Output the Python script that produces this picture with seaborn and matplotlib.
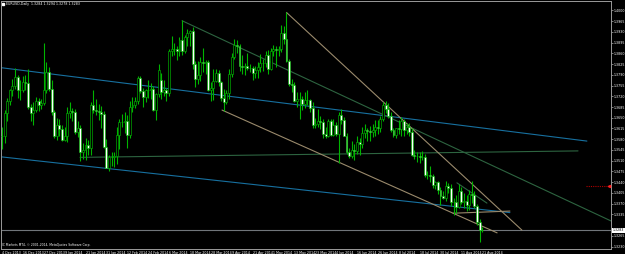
import numpy as np
import pandas as pd
import matplotlib
matplotlib.use("Agg")
import matplotlib.pyplot as plt
import seaborn as sns

# ---------------- data (EURUSD daily) ----------------
opens = [1.3590,1.3592,1.3664,1.3705,1.3740,1.3755,1.3783,1.3740,1.3741,1.3765,
1.3763,1.3685,1.3665,1.3675,1.3703,1.3693,1.3697,1.3740,1.3800,1.3743,
1.3670,1.3589,1.3627,1.3614,1.3576,1.3592,1.3666,1.3672,1.3670,1.3603,
1.3618,1.3540,1.3546,1.3560,1.3550,1.3690,1.3676,1.3673,1.3669,1.3661,
1.3555,1.3486,1.3521,1.3523,1.3526,1.3593,1.3636,1.3636,1.3640,1.3593,
1.3686,1.3693,1.3705,1.3781,1.3737,1.3717,1.3742,1.3740,1.3745,1.3676,
1.3727,1.3772,1.3735,1.3741,1.3730,1.3869,1.3875,1.3873,1.3868,1.3904,
1.3868,1.3914,1.3925,1.3932,1.3826,1.3776,1.3790,1.3833,1.3827,1.3832,
1.3740,1.3748,1.3771,1.3795,1.3767,1.3714,1.3702,1.3729,1.3792,1.3849,
1.3887,1.3885,1.3817,1.3814,1.3818,1.3812,1.3811,1.3795,1.3804,1.3815,
1.3827,1.3829,1.3856,1.3809,1.3869,1.3873,1.3871,1.3874,1.3927,1.3906,
1.3835,1.3759,1.3758,1.3703,1.3712,1.3710,1.3695,1.3709,1.3708,1.3683,
1.3628,1.3630,1.3638,1.3635,1.3596,1.3591,1.3639,1.3593,1.3628,1.3597,
1.3660,1.3642,1.3592,1.3540,1.3526,1.3545,1.3541,1.3571,1.3565,1.3600,
1.3610,1.3608,1.3604,1.3610,1.3620,1.3617,1.3646,1.3693,1.3678,1.3655,
1.3610,1.3594,1.3615,1.3612,1.3639,1.3610,1.3620,1.3604,1.3530,1.3525,
1.3525,1.3523,1.3521,1.3463,1.3464,1.3461,1.3430,1.3440,1.3414,1.3395,
1.3388,1.3428,1.3420,1.3375,1.3376,1.3360,1.3410,1.3377,1.3380,1.3366,
1.3402,1.3399,1.3363,1.3310,1.3284]
highs = [1.3620,1.3674,1.3714,1.3745,1.3775,1.3811,1.3790,1.3772,1.3787,1.3790,
1.3810,1.3695,1.3701,1.3717,1.3715,1.3711,1.3893,1.3832,1.3815,1.3772,
1.3675,1.3648,1.3647,1.3626,1.3620,1.3686,1.3701,1.3682,1.3680,1.3640,
1.3627,1.3569,1.3583,1.3579,1.3700,1.3740,1.3711,1.3696,1.3688,1.3671,
1.3580,1.3530,1.3540,1.3540,1.3620,1.3646,1.3661,1.3670,1.3660,1.3704,
1.3716,1.3716,1.3785,1.3787,1.3747,1.3745,1.3774,1.3764,1.3755,1.3731,
1.3824,1.3797,1.3774,1.3747,1.3873,1.3915,1.3893,1.3885,1.3913,1.3967,
1.3920,1.3938,1.3935,1.3946,1.3834,1.3835,1.3847,1.3877,1.3838,1.3837,
1.3765,1.3810,1.3810,1.3806,1.3770,1.3743,1.3742,1.3810,1.3860,1.3906,
1.3904,1.3890,1.3853,1.3829,1.3860,1.3825,1.3820,1.3820,1.3833,1.3857,
1.3843,1.3866,1.3872,1.3877,1.3887,1.3884,1.3884,1.3951,1.3950,1.3993,
1.3840,1.3777,1.3766,1.3734,1.3733,1.3722,1.3734,1.3742,1.3712,1.3702,
1.3650,1.3677,1.3655,1.3647,1.3620,1.3645,1.3647,1.3647,1.3635,1.3670,
1.3677,1.3651,1.3599,1.3551,1.3575,1.3566,1.3591,1.3583,1.3620,1.3631,
1.3615,1.3622,1.3630,1.3643,1.3642,1.3657,1.3700,1.3703,1.3697,1.3670,
1.3617,1.3618,1.3643,1.3653,1.3646,1.3633,1.3632,1.3618,1.3546,1.3540,
1.3537,1.3543,1.3533,1.3475,1.3493,1.3466,1.3445,1.3445,1.3423,1.3412,
1.3444,1.3439,1.3433,1.3390,1.3399,1.3433,1.3424,1.3405,1.3397,1.3414,
1.3444,1.3411,1.3368,1.3320,1.3294]
lows = [1.3548,1.3568,1.3641,1.3690,1.3720,1.3745,1.3715,1.3709,1.3735,1.3739,
1.3680,1.3640,1.3625,1.3670,1.3672,1.3678,1.3690,1.3730,1.3737,1.3659,
1.3584,1.3578,1.3589,1.3573,1.3575,1.3572,1.3649,1.3640,1.3598,1.3587,
1.3508,1.3516,1.3511,1.3528,1.3530,1.3665,1.3658,1.3642,1.3617,1.3552,
1.3485,1.3477,1.3494,1.3490,1.3499,1.3549,1.3619,1.3600,1.3552,1.3585,
1.3670,1.3683,1.3695,1.3730,1.3685,1.3702,1.3715,1.3712,1.3671,1.3642,
1.3719,1.3712,1.3722,1.3703,1.3720,1.3850,1.3856,1.3838,1.3850,1.3854,
1.3861,1.3885,1.3885,1.3810,1.3749,1.3760,1.3770,1.3800,1.3791,1.3738,
1.3704,1.3708,1.3766,1.3752,1.3706,1.3673,1.3695,1.3710,1.3782,1.3840,
1.3860,1.3801,1.3791,1.3790,1.3805,1.3800,1.3773,1.3781,1.3780,1.3800,
1.3803,1.3815,1.3792,1.3805,1.3850,1.3815,1.3850,1.3865,1.3890,1.3830,
1.3752,1.3735,1.3700,1.3686,1.3646,1.3676,1.3681,1.3690,1.3668,1.3616,
1.3616,1.3620,1.3614,1.3585,1.3585,1.3586,1.3589,1.3590,1.3590,1.3503,
1.3631,1.3590,1.3533,1.3518,1.3520,1.3513,1.3533,1.3530,1.3550,1.3584,
1.3575,1.3575,1.3587,1.3590,1.3598,1.3603,1.3640,1.3666,1.3648,1.3602,
1.3586,1.3584,1.3597,1.3590,1.3590,1.3596,1.3592,1.3524,1.3515,1.3507,
1.3503,1.3511,1.3458,1.3449,1.3440,1.3420,1.3417,1.3402,1.3367,1.3385,
1.3380,1.3406,1.3364,1.3333,1.3340,1.3355,1.3370,1.3357,1.3347,1.3350,
1.3372,1.3356,1.3302,1.3245,1.3278]
closes = [1.3592,1.3664,1.3705,1.3740,1.3755,1.3783,1.3740,1.3741,1.3765,1.3763,
1.3685,1.3665,1.3675,1.3703,1.3693,1.3697,1.3740,1.3800,1.3743,1.3670,
1.3589,1.3627,1.3614,1.3576,1.3592,1.3666,1.3672,1.3670,1.3603,1.3618,
1.3540,1.3546,1.3560,1.3550,1.3690,1.3676,1.3673,1.3669,1.3661,1.3555,
1.3486,1.3521,1.3523,1.3526,1.3593,1.3636,1.3636,1.3640,1.3593,1.3686,
1.3693,1.3705,1.3781,1.3737,1.3717,1.3742,1.3740,1.3745,1.3676,1.3727,
1.3806,1.3735,1.3741,1.3730,1.3869,1.3875,1.3873,1.3868,1.3904,1.3868,
1.3914,1.3925,1.3932,1.3826,1.3776,1.3790,1.3833,1.3827,1.3832,1.3740,
1.3748,1.3771,1.3795,1.3767,1.3714,1.3702,1.3729,1.3792,1.3849,1.3887,
1.3885,1.3817,1.3814,1.3818,1.3812,1.3811,1.3795,1.3804,1.3815,1.3827,
1.3829,1.3856,1.3809,1.3869,1.3873,1.3871,1.3874,1.3927,1.3906,1.3835,
1.3759,1.3758,1.3703,1.3712,1.3710,1.3695,1.3709,1.3708,1.3683,1.3628,
1.3630,1.3638,1.3635,1.3596,1.3591,1.3639,1.3593,1.3628,1.3597,1.3660,
1.3642,1.3592,1.3540,1.3526,1.3545,1.3541,1.3571,1.3565,1.3600,1.3610,
1.3608,1.3604,1.3610,1.3620,1.3617,1.3646,1.3693,1.3678,1.3655,1.3610,
1.3594,1.3615,1.3612,1.3639,1.3610,1.3620,1.3604,1.3530,1.3525,1.3525,
1.3523,1.3521,1.3463,1.3464,1.3461,1.3430,1.3440,1.3414,1.3395,1.3388,
1.3428,1.3420,1.3375,1.3376,1.3360,1.3410,1.3377,1.3380,1.3366,1.3402,
1.3399,1.3363,1.3310,1.3284,1.3283]

holidays = ["2013-12-25", "2014-01-01"]
price_ticks = [1.4000, 1.3965, 1.3930, 1.3895, 1.3860, 1.3825, 1.3790, 1.3755,
               1.3720, 1.3685, 1.3650, 1.3615, 1.3580, 1.3545, 1.3510, 1.3475,
               1.3440, 1.3405, 1.3370, 1.3335, 1.3265, 1.3230]
bid_price = 1.3283
alert_price = 1.3428
title_text = "EURUSD,Daily  1.3284 1.3294 1.3278 1.3283"
copyright_text = "IC Markets MT4, \u00a9 2001-2014, MetaQuotes Software Corp."

# trend lines: (bar0, price0, bar1, price1, colour)
tl_bar0 = [-5, -5, 29.9, 69, 109, 84.3, 174.3, 172.8]
tl_p0 = [1.3818, 1.3527, 1.3521, 1.3966, 1.3993, 1.3675, 1.3438, 1.3339]
tl_bar1 = [224.1, 194.6, 220.7, 233.3, 199.2, 189.7, 185.8, 194.6]
tl_p1 = [1.3574, 1.3341, 1.3542, 1.3314, 1.3284, 1.3275, 1.3372, 1.3346]
tl_col = ["#17709f", "#17709f", "#2d6440", "#2d6440", "#9a8a6c", "#9a8a6c",
          "#2d6440", "#9a8a6c"]

# ---------------- build ----------------
days = pd.bdate_range("2013-12-04", "2014-08-21")
days = days[~days.isin(pd.to_datetime(holidays))]
df = pd.DataFrame({"date": days, "open": opens, "high": highs,
                   "low": lows, "close": closes})
df["i"] = np.arange(len(df))

sns.set_theme(style="dark", rc={"axes.facecolor": "black",
                                "figure.facecolor": "black"})
plt.rcParams["font.family"] = ["DejaVu Sans"]

W, H = 625, 254
fig = plt.figure(figsize=(W / 100, H / 100), dpi=100)
ax = fig.add_axes([1 / W, 5.5 / H, 610 / W, 247.5 / H])
ax.set_facecolor("black")

wick = "#00b400"
ax.vlines(df["i"], df["low"], df["high"], color=wick, lw=0.8, zorder=3)
bull = df["close"] >= df["open"]
body_lo = np.minimum(df["open"], df["close"])
body_h = np.maximum(np.abs(df["close"] - df["open"]), 0.00006)
faces = np.where(bull, "black", "white")
ax.bar(df["i"], body_h, bottom=body_lo, width=0.75, color=faces,
       edgecolor=wick, linewidth=0.45, zorder=4)

for b0, p0, b1, p1, c in zip(tl_bar0, tl_p0, tl_bar1, tl_p1, tl_col):
    sns.lineplot(x=[b0, b1], y=[p0, p1], color=c, lw=0.8, ax=ax, zorder=2)

ax.axhline(bid_price, color="#70757a", lw=0.8, zorder=1)
ax.plot([223.8, 232.6], [alert_price, alert_price], color="#b00000", lw=0.8,
        ls=(0, (1, 1)), zorder=5)
ax.plot([232.6], [alert_price], marker="<", ms=1.6, color="#ff2020",
        clip_on=False, zorder=6)

x0 = -0.383
ax.set_xlim(x0, x0 + 610 / 2.61)
ax.set_ylim(1.32241, 1.40303)

# axes / ticks
fs = 2.3
ax.yaxis.tick_right()
ax.set_yticks(price_ticks)
ax.set_yticklabels([f"{v:.4f}" for v in price_ticks])
tick_bars = list(range(0, len(df), 8))
ax.set_xticks(tick_bars)
ax.set_xticklabels([f"{d.day} {d:%b %Y}" for d in df["date"].iloc[tick_bars]])
for lab in ax.get_xticklabels():
    lab.set_ha("left")
ax.tick_params(axis="both", colors="#b0b0b0", labelcolor="white",
               labelsize=fs, length=1.4, width=0.5, pad=0.8)
ax.tick_params(axis="x", pad=0.2)
ax.set_xlabel("")
ax.set_ylabel("")
ax.grid(False)
for s in ax.spines.values():
    s.set_color("#9a9a9a")
    s.set_linewidth(0.7)
    s.set_visible(True)

tr = ax.get_yaxis_transform()
ax.text(1.0025, bid_price, f"{bid_price:.4f}", transform=tr, fontsize=fs,
        color="black", va="center", ha="left", clip_on=False, zorder=10,
        bbox=dict(boxstyle="square,pad=0.2", fc="white", ec="white", lw=0))

ax.text(0.0085, 0.9895, title_text, transform=ax.transAxes, fontsize=fs,
        color="white", va="center", ha="left")
ax.plot([0.0035], [0.9895], marker="s", ms=1.5, color="white",
        transform=ax.transAxes, clip_on=False)
ax.text(0.002, 0.014, copyright_text, transform=ax.transAxes, fontsize=2.2,
        color="white", va="center", ha="left")

fig.savefig("out.png", dpi=100, facecolor="black")
